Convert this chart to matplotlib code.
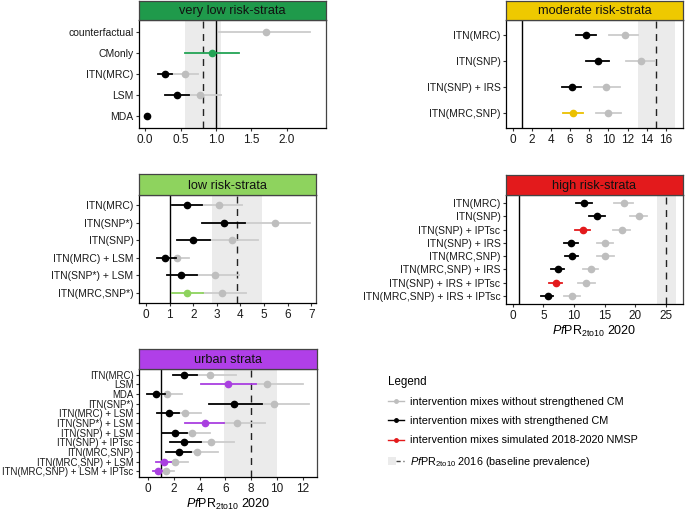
import numpy as np
import matplotlib
matplotlib.use('Agg')
import matplotlib.pyplot as plt
from matplotlib.lines import Line2D
from matplotlib.patches import Patch
from matplotlib.legend_handler import HandlerTuple

plt.rcParams['font.family'] = ['Liberation Sans', 'DejaVu Sans']
plt.rcParams['mathtext.fontset'] = 'custom'
plt.rcParams['mathtext.rm'] = 'Liberation Sans'
plt.rcParams['mathtext.it'] = 'Liberation Sans:italic'

nan = np.nan

# %% very low risk-strata
vl_labels = ['counterfactual', 'CMonly', 'ITN(MRC)', 'LSM', 'MDA']
vl_est = [nan, 0.95, 0.28, 0.45, 0.03]
vl_lo = [nan, 0.57, 0.18, 0.28, 0.01]
vl_hi = [nan, 1.33, 0.38, 0.62, 0.06]
vl_est0 = [1.70, nan, 0.57, 0.77, nan]
vl_lo0 = [1.04, nan, 0.38, 0.62, nan]
vl_hi0 = [2.33, nan, 0.75, 1.07, nan]
vl_col = ['k', '#23A455', 'k', 'k', 'k']
vl_base, vl_band = 0.82, (0.57, 1.07)

# %% moderate risk-strata
mo_labels = ['ITN(MRC)', 'ITN(SNP)', 'ITN(SNP) + IRS', 'ITN(MRC,SNP)']
mo_est = [7.7, 8.9, 6.2, 6.3]
mo_lo = [6.6, 7.7, 5.2, 5.3]
mo_hi = [8.7, 10.1, 7.1, 7.3]
mo_est0 = [11.7, 13.4, 9.8, 10.0]
mo_lo0 = [10.1, 11.8, 8.5, 8.7]
mo_hi0 = [13.1, 14.9, 11.2, 11.3]
mo_col = ['k', 'k', 'k', '#EBC000']
mo_base, mo_band = 15.0, (13.1, 17.0)

# %% low risk-strata
lo_labels = ['ITN(MRC)', 'ITN(SNP*)', 'ITN(SNP)', 'ITN(MRC) + LSM',
             'ITN(SNP*) + LSM', 'ITN(MRC,SNP*)']
lo_est = [1.75, 3.3, 2.0, 0.8, 1.5, 1.75]
lo_lo = [1.1, 2.35, 1.3, 0.45, 0.9, 1.1]
lo_hi = [2.35, 4.2, 2.7, 1.25, 2.15, 2.4]
lo_est0 = [3.1, 5.45, 3.65, 1.3, 2.9, 3.2]
lo_lo0 = [2.35, 4.2, 2.7, 1.25, 2.15, 2.4]
lo_hi0 = [4.05, 6.95, 4.75, 1.8, 3.95, 4.25]
lo_col = ['k', 'k', 'k', 'k', 'k', '#8ED35E']
lo_base, lo_band = 3.85, (2.8, 4.9)

# %% high risk-strata
hi_labels = ['ITN(MRC)', 'ITN(SNP)', 'ITN(SNP) + IPTsc', 'ITN(SNP) + IRS',
             'ITN(MRC,SNP)', 'ITN(MRC,SNP) + IRS', 'ITN(SNP) + IRS + IPTsc',
             'ITN(MRC,SNP) + IRS + IPTsc']
hi_est = [11.7, 13.7, 11.5, 9.5, 9.6, 7.4, 7.0, 5.7]
hi_lo = [10.3, 12.4, 10.2, 8.4, 8.5, 6.3, 5.9, 4.6]
hi_hi = [13.0, 15.0, 12.6, 10.6, 10.6, 8.4, 8.0, 6.6]
hi_est0 = [18.1, 20.6, 17.8, 15.0, 15.1, 12.7, 12.0, 9.7]
hi_lo0 = [16.6, 19.2, 16.4, 13.7, 13.8, 11.4, 10.6, 8.3]
hi_hi0 = [19.6, 22.0, 19.2, 16.4, 16.5, 14.0, 13.4, 11.0]
hi_col = ['k', 'k', '#E31A1C', 'k', 'k', 'k', '#E31A1C', 'k']
hi_base, hi_band = 25.0, (23.5, 26.7)

# %% urban strata
ur_labels = ['ITN(MRC)', 'LSM', 'MDA', 'ITN(SNP*)', 'ITN(MRC) + LSM',
             'ITN(SNP*) + LSM', 'ITN(SNP) + LSM', 'ITN(SNP) + IPTsc',
             'ITN(MRC,SNP)', 'ITN(MRC,SNP) + LSM', 'ITN(MRC,SNP) + LSM + IPTsc']
ur_est = [2.8, 6.2, 0.6, 6.7, 1.6, 4.4, 2.1, 2.8, 2.4, 1.2, 0.75]
ur_lo = [1.9, 4.1, -0.1, 4.7, 0.7, 2.9, 1.1, 1.7, 1.4, 0.6, 0.4]
ur_hi = [3.8, 8.4, 1.3, 8.8, 2.4, 5.9, 3.0, 4.1, 3.3, 1.8, 1.1]
ur_est0 = [4.8, 9.2, 1.5, 9.8, 2.9, 6.9, 3.4, 4.9, 3.8, 2.1, 1.4]
ur_lo0 = [3.8, 8.4, 1.3, 8.8, 2.4, 5.9, 3.0, 4.1, 3.3, 1.8, 1.1]
ur_hi0 = [6.8, 12.0, 2.6, 12.5, 4.1, 9.1, 4.8, 6.7, 5.4, 3.1, 2.0]
ur_col = ['k', '#A93FE0', 'k', 'k', 'k', '#A93FE0', 'k', 'k', 'k', '#A93FE0', '#A93FE0']
ur_base, ur_band = 8.0, (5.9, 10.0)

W, H = 685, 512
fig = plt.figure(figsize=(W / 100, H / 100), dpi=100)
xlab = r'$\mathit{Pf}\mathrm{PR}_{\mathrm{2to10}}$ 2020'


def panel(box, title, strip_col, labels, est, lo, hi, est0, lo0, hi0, cols,
          base, band, xlim, xticks, xticklabels, xlabel=False, yfs=7.5):
    l, t, r, sb, b = box
    ax = fig.add_axes([l / W, 1 - b / H, (r - l) / W, (b - sb) / H])
    st = fig.add_axes([l / W, 1 - sb / H, (r - l) / W, (sb - t) / H])
    n = len(labels)
    y = np.arange(n, 0, -1)
    ax.axvspan(band[0], band[1], color='#EBEBEB', zorder=0, lw=0)
    ax.axvline(base, color='#222222', ls=(0, (5, 4)), lw=1.0, zorder=1)
    ax.axvline(1, color='k', lw=1.0, zorder=1)
    for i in range(n):
        if not np.isnan(est0[i]):
            ax.plot([lo0[i], hi0[i]], [y[i], y[i]], color='#CCCCCC', lw=1.3, zorder=2)
            ax.plot(est0[i], y[i], 'o', color='#BEBEBE', ms=4.5, zorder=3)
        if not np.isnan(est[i]):
            ax.plot([lo[i], hi[i]], [y[i], y[i]], color=cols[i], lw=1.3, zorder=4)
            ax.plot(est[i], y[i], 'o', color=cols[i], ms=4.5, zorder=5)
    ax.set_ylim(0.4, n + 0.6)
    ax.set_xlim(*xlim)
    ax.set_yticks(y)
    ax.set_yticklabels(labels, fontsize=yfs, color='#1A1A1A')
    ax.set_xticks(xticks)
    ax.set_xticklabels(xticklabels, fontsize=8.5, color='#1A1A1A')
    ax.tick_params(length=2.5, width=0.8, color='#333333', pad=1.5)
    for s in ax.spines.values():
        s.set_color('#444444')
        s.set_linewidth(0.9)
    ax.spines['left'].set_color('k')
    ax.spines['bottom'].set_color('k')
    if xlabel:
        ax.set_xlabel(xlab, fontsize=9, labelpad=2)
    st.set_facecolor(strip_col)
    st.set_xticks([])
    st.set_yticks([])
    for s in st.spines.values():
        s.set_color('#444444')
        s.set_linewidth(0.9)
    st.text(0.5, 0.45, title, ha='center', va='center', fontsize=9.2,
            color='#111111', transform=st.transAxes)
    return ax


panel((139, 1, 326, 20, 128), 'very low risk-strata', '#1F9A4B', vl_labels,
      vl_est, vl_lo, vl_hi, vl_est0, vl_lo0, vl_hi0, vl_col, vl_base, vl_band,
      (-0.085, 2.55), [0, 0.5, 1, 1.5, 2], ['0.0', '0.5', '1.0', '1.5', '2.0'])
panel((506, 1, 683, 20, 128), 'moderate risk-strata', '#EEC900', mo_labels,
      mo_est, mo_lo, mo_hi, mo_est0, mo_lo0, mo_hi0, mo_col, mo_base, mo_band,
      (-0.7, 17.8), list(range(0, 17, 2)), [str(v) for v in range(0, 17, 2)])
panel((139, 174, 316, 195, 303), 'low risk-strata', '#8ED35E', lo_labels,
      lo_est, lo_lo, lo_hi, lo_est0, lo_lo0, lo_hi0, lo_col, lo_base, lo_band,
      (-0.3, 7.2), list(range(0, 8)), [str(v) for v in range(0, 8)])
panel((506, 175, 683, 195, 304), 'high risk-strata', '#E31A1C', hi_labels,
      hi_est, hi_lo, hi_hi, hi_est0, hi_lo0, hi_hi0, hi_col, hi_base, hi_band,
      (-1.1, 27.8), list(range(0, 26, 5)), [str(v) for v in range(0, 26, 5)],
      xlabel=True)
panel((139, 349, 317, 369, 477), 'urban strata', '#B03FE8', ur_labels,
      ur_est, ur_lo, ur_hi, ur_est0, ur_lo0, ur_hi0, ur_col, ur_base, ur_band,
      (-0.7, 13.1), list(range(0, 13, 2)), [str(v) for v in range(0, 13, 2)],
      xlabel=True, yfs=6.9)

# Legende
handles = [
    Line2D([], [], color='#BEBEBE', marker='o', ms=2.5, lw=1.0),
    Line2D([], [], color='k', marker='o', ms=2.5, lw=1.0),
    Line2D([], [], color='#E31A1C', marker='o', ms=2.5, lw=1.0),
    (Patch(facecolor='#EBEBEB', edgecolor='none'),
     Line2D([], [], color='#444444', ls=(0, (3, 2)), lw=1.0)),
]
names = ['intervention mixes without strengthened CM',
         'intervention mixes with strengthened CM',
         'intervention mixes simulated 2018-2020 NMSP',
         r'$\mathit{Pf}\mathrm{PR}_{\mathrm{2to10}}$ 2016 (baseline prevalence)']
leg = fig.legend(handles, names, loc='upper left',
                 bbox_to_anchor=(378 / W, 1 - 366 / H), frameon=False,
                 title='Legend', fontsize=7.8, title_fontsize=8.3,
                 handlelength=1.5, handletextpad=0.6, labelspacing=0.85,
                 handler_map={tuple: HandlerTuple(ndivide=None, pad=0)})
leg._legend_box.align = 'left'

fig.savefig('out.png', dpi=100)
